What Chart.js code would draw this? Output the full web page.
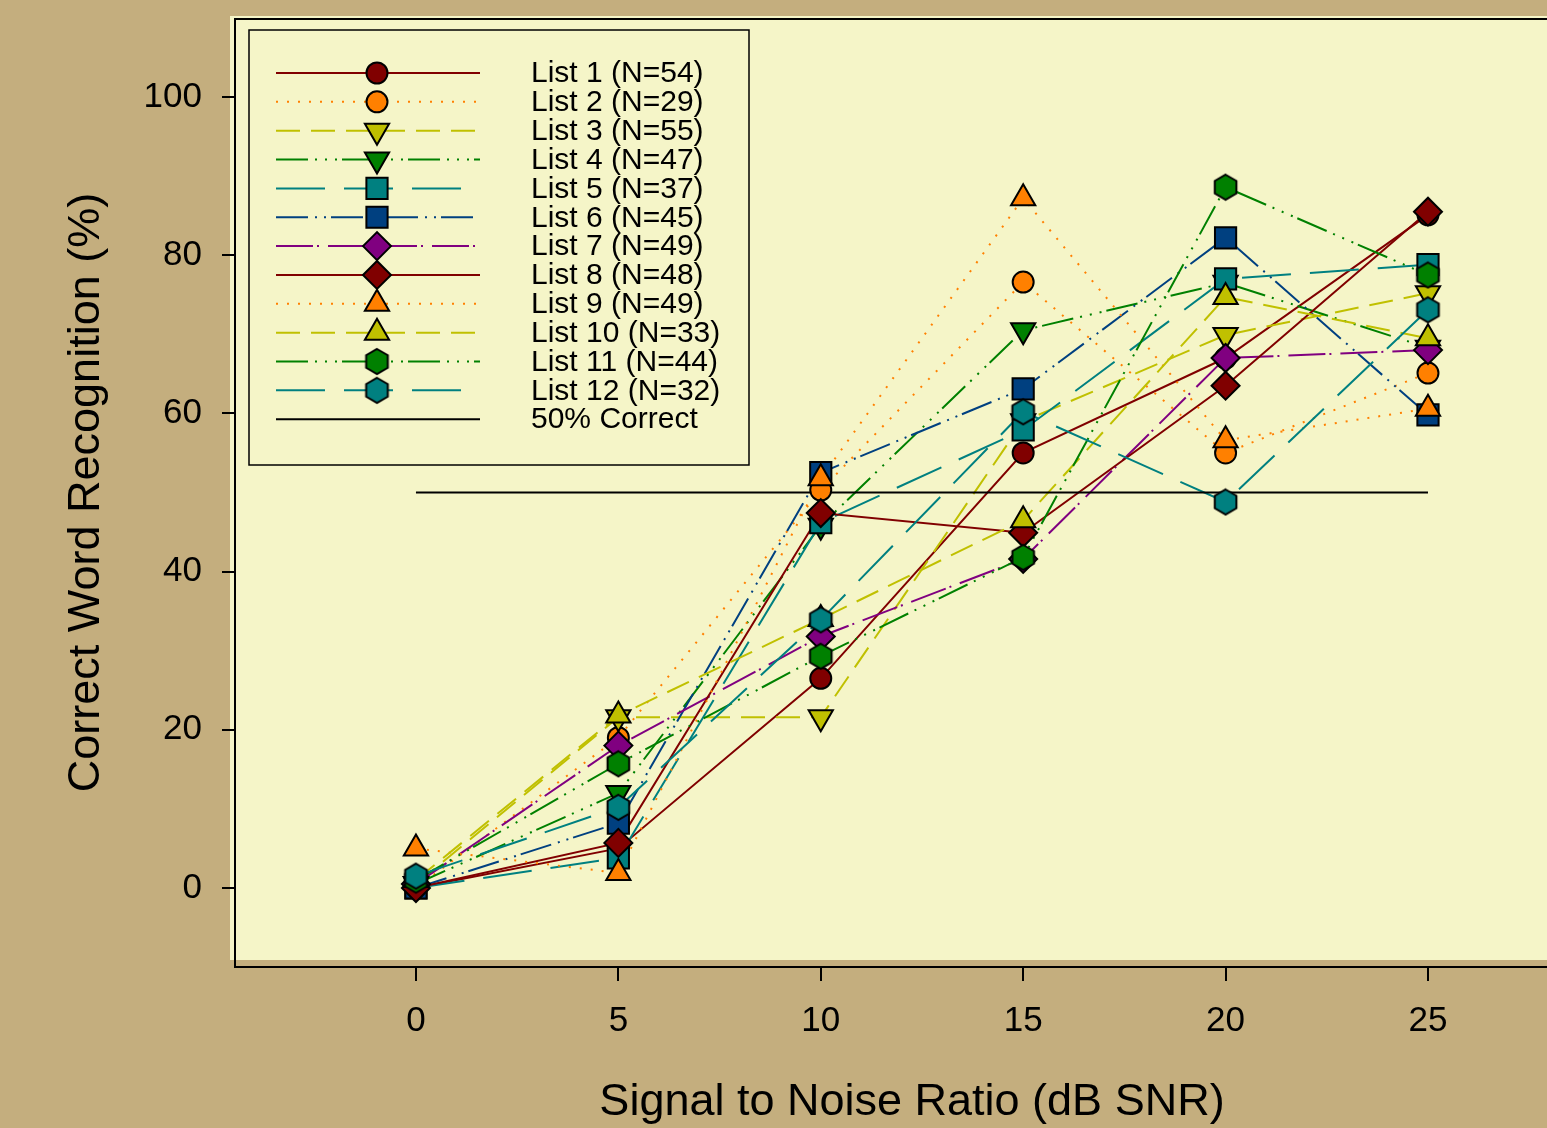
<!DOCTYPE html>
<html><head><meta charset="utf-8">
<script src="https://cdn.jsdelivr.net/npm/chart.js@4.4.1/dist/chart.umd.min.js"></script>
<style>html,body{margin:0;padding:0;background:#C4AE7E;}#wrap{width:1547px;height:1128px;position:relative;}</style>
</head><body><div id="wrap"><canvas id="c" width="1547" height="1128"></canvas></div>
<script>
// ---- data ----
const snr = [0, 5, 10, 15, 20, 25];
const list1  = [0.0, 5.0, 26.5, 55.0, 67.0, 85.1];
const list2  = [0.0, 19.0, 50.3, 76.6, 55.0, 65.1];
const list3  = [0.5, 21.6, 21.6, 59.0, 69.9, 75.2];
const list4  = [0.5, 12.0, 45.8, 70.5, 76.5, 68.3];
const list5  = [0.0, 3.8, 46.2, 57.9, 77.0, 78.8];
const list6  = [0.0, 8.2, 52.5, 63.1, 82.2, 59.8];
const list7  = [0.5, 18.0, 31.8, 41.6, 67.0, 68.0];
const list8  = [0.0, 5.7, 47.4, 44.9, 63.5, 85.5];
const list9  = [5.0, 1.9, 51.8, 87.2, 56.6, 60.6];
const list10 = [1.0, 21.8, 34.0, 46.5, 74.7, 69.5];
const list11 = [1.0, 15.7, 29.3, 41.8, 88.6, 77.5];
const list12 = [1.5, 10.2, 33.9, 60.2, 48.8, 73.1];
const refX = [0, 25];
const refY = [50, 50];
const seriesLabels = ['List 1 (N=54)','List 2 (N=29)','List 3 (N=55)','List 4 (N=47)','List 5 (N=37)','List 6 (N=45)','List 7 (N=49)','List 8 (N=48)','List 9 (N=49)','List 10 (N=33)','List 11 (N=44)','List 12 (N=32)'];
const refLabel = '50% Correct';
const xTicks = [0, 5, 10, 15, 20, 25];
const yTicks = [0, 20, 40, 60, 80, 100];
const xTitle = 'Signal to Noise Ratio (dB SNR)';
const yTitle = 'Correct Word Recognition (%)';
const allLists = [list1,list2,list3,list4,list5,list6,list7,list8,list9,list10,list11,list12];

// ---- styles ----
const FONT = '"Liberation Sans", Arial, Helvetica, sans-serif';
function hexCanvas(fill, R) {
  const s = Math.ceil(2 * R + 4);
  const c = document.createElement('canvas');
  c.width = s; c.height = s;
  const g = c.getContext('2d');
  const cx = s / 2, cy = s / 2;
  g.beginPath();
  for (let k = 0; k < 6; k++) {
    const a = -Math.PI / 2 + k * Math.PI / 3;
    const px = cx + R * Math.cos(a), py = cy + R * Math.sin(a);
    if (k === 0) g.moveTo(px, py); else g.lineTo(px, py);
  }
  g.closePath();
  g.fillStyle = fill; g.fill();
  g.lineWidth = 2; g.strokeStyle = '#000'; g.stroke();
  return c;
}
const C_RED = '#800000', C_OR = '#FF8000', C_YL = '#C0C000', C_GR = '#008000', C_TL = '#008080', C_BL = '#004080', C_PU = '#800080';
const DOT = [2, 9], DASH = [24, 11], DDD = [32, 7, 2, 8, 2, 8, 2, 5], LONG = [49, 19], DDB = [32, 7, 2, 7, 2, 5], LDOT = [37, 4, 2, 9];
const styles = [
  {color: C_RED, dash: [], ps: 'circle', r: 10.5, rot: 0},
  {color: C_OR, dash: DOT, ps: 'circle', r: 10.5, rot: 0},
  {color: C_YL, dash: DASH, ps: 'triangle', r: 14, rot: 180},
  {color: C_GR, dash: DDD, ps: 'triangle', r: 14, rot: 180},
  {color: C_TL, dash: LONG, ps: 'rect', r: 15, rot: 0},
  {color: C_BL, dash: DDB, ps: 'rect', r: 15, rot: 0},
  {color: C_PU, dash: LDOT, ps: 'rectRot', r: 14, rot: 0},
  {color: C_RED, dash: [], ps: 'rectRot', r: 14, rot: 0},
  {color: C_OR, dash: DOT, ps: 'triangle', r: 14, rot: 0},
  {color: C_YL, dash: DASH, ps: 'triangle', r: 14, rot: 0},
  {color: C_GR, dash: DDD, ps: hexCanvas(C_GR, 12.5), r: 12.5, rot: 0},
  {color: C_TL, dash: LONG, ps: hexCanvas(C_TL, 12.5), r: 12.5, rot: 0}
];

// ---- datasets ----
const datasets = [];
allLists.forEach((vals, i) => {
  const st = styles[i];
  const pts = snr.map((x, j) => ({x: x, y: vals[j]}));
  datasets.push({
    label: seriesLabels[i] + ' line', data: pts, showLine: true, borderColor: st.color,
    borderWidth: 2, borderDash: st.dash, pointRadius: 0, pointHoverRadius: 0, fill: false,
    tension: 0, order: 200 + (12 - i)
  });
});
datasets.push({
  label: refLabel, data: refX.map((x, j) => ({x: x, y: refY[j]})), showLine: true,
  borderColor: '#000', borderWidth: 2, pointRadius: 0, fill: false, order: 150
});
allLists.forEach((vals, i) => {
  const st = styles[i];
  datasets.push({
    label: seriesLabels[i], data: snr.map((x, j) => ({x: x, y: vals[j]})), showLine: false,
    pointStyle: st.ps, pointRadius: st.r, pointHoverRadius: st.r, pointRotation: st.rot,
    backgroundColor: st.color, borderColor: '#000', borderWidth: 2, order: 12 - i
  });
});

// ---- plugins ----
const bgPlugin = {
  id: 'bg',
  beforeDraw(chart) {
    const ctx = chart.ctx;
    ctx.save();
    ctx.fillStyle = '#C4AE7E';
    ctx.fillRect(0, 0, chart.width, chart.height);
    ctx.fillStyle = '#F5F5C8';
    ctx.fillRect(230, 16, chart.width - 230, 944);
    ctx.strokeStyle = '#000'; ctx.lineWidth = 2;
    ctx.beginPath(); ctx.moveTo(234, 19); ctx.lineTo(chart.width, 19); ctx.stroke();
    ctx.restore();
  }
};
const legendPlugin = {
  id: 'customLegend',
  afterDraw(chart) {
    const ctx = chart.ctx;
    ctx.save();
    ctx.fillStyle = '#F5F5C8';
    ctx.fillRect(249, 30, 500, 435);
    ctx.strokeStyle = '#000'; ctx.lineWidth = 1.5;
    ctx.strokeRect(249, 30, 500, 435);
    const y0 = 73, dy = 28.85;
    ctx.font = '30px ' + FONT;
    ctx.textBaseline = 'middle';
    ctx.textAlign = 'left';
    for (let i = 0; i < 13; i++) {
      const y = y0 + i * dy;
      const st = i < 12 ? styles[i] : {color: '#000', dash: []};
      ctx.save();
      ctx.strokeStyle = st.color; ctx.lineWidth = 2; ctx.setLineDash(st.dash);
      ctx.beginPath(); ctx.moveTo(276, y); ctx.lineTo(480, y); ctx.stroke();
      ctx.restore();
      if (i < 12) {
        ctx.save();
        ctx.fillStyle = st.color; ctx.strokeStyle = '#000'; ctx.lineWidth = 2; ctx.setLineDash([]);
        Chart.helpers.drawPoint(ctx, {pointStyle: st.ps, radius: st.r, rotation: st.rot, borderWidth: 2}, 377, y);
        ctx.restore();
      }
      ctx.fillStyle = '#000';
      ctx.fillText(i < 12 ? seriesLabels[i] : refLabel, 531, y + 1);
    }
    ctx.font = '45px ' + FONT;
    ctx.fillStyle = '#000';
    ctx.textAlign = 'center';
    ctx.textBaseline = 'alphabetic';
    ctx.fillText(xTitle, 912, 1115);
    ctx.save();
    ctx.translate(99, 492.5);
    ctx.rotate(-Math.PI / 2);
    ctx.fillText(yTitle, 0, 0);
    ctx.restore();
    ctx.restore();
  }
};

new Chart(document.getElementById('c'), {
  type: 'scatter',
  data: {datasets: datasets},
  options: {
    responsive: false, animation: false, events: [],
    layout: {autoPadding: false, padding: {top: 19, left: 0, right: 0, bottom: 0}},
    plugins: {legend: {display: false}, tooltip: {enabled: false}},
    scales: {
      x: {
        type: 'linear', min: -4.47, max: 27.94,
        afterBuildTicks: s => { s.ticks = xTicks.map(v => ({value: v})); },
        afterFit: s => { s.height = 161; s.paddingLeft = 0; s.paddingRight = 0; },
        grid: {drawOnChartArea: false, color: '#000', lineWidth: 2, tickLength: 14},
        border: {display: true, color: '#000', width: 2},
        ticks: {font: {size: 35, family: FONT}, color: '#000', padding: 19, maxRotation: 0, autoSkip: false}
      },
      y: {
        type: 'linear', min: -9.99, max: 109.86,
        afterBuildTicks: s => { s.ticks = yTicks.map(v => ({value: v})); },
        afterFit: s => { s.width = 235; s.paddingTop = 0; s.paddingBottom = 0; },
        grid: {drawOnChartArea: false, color: '#000', lineWidth: 2, tickLength: 13},
        border: {display: true, color: '#000', width: 2},
        ticks: {font: {size: 35, family: FONT}, color: '#000', padding: 20, autoSkip: false}
      }
    }
  },
  plugins: [bgPlugin, legendPlugin]
});
</script></body></html>
